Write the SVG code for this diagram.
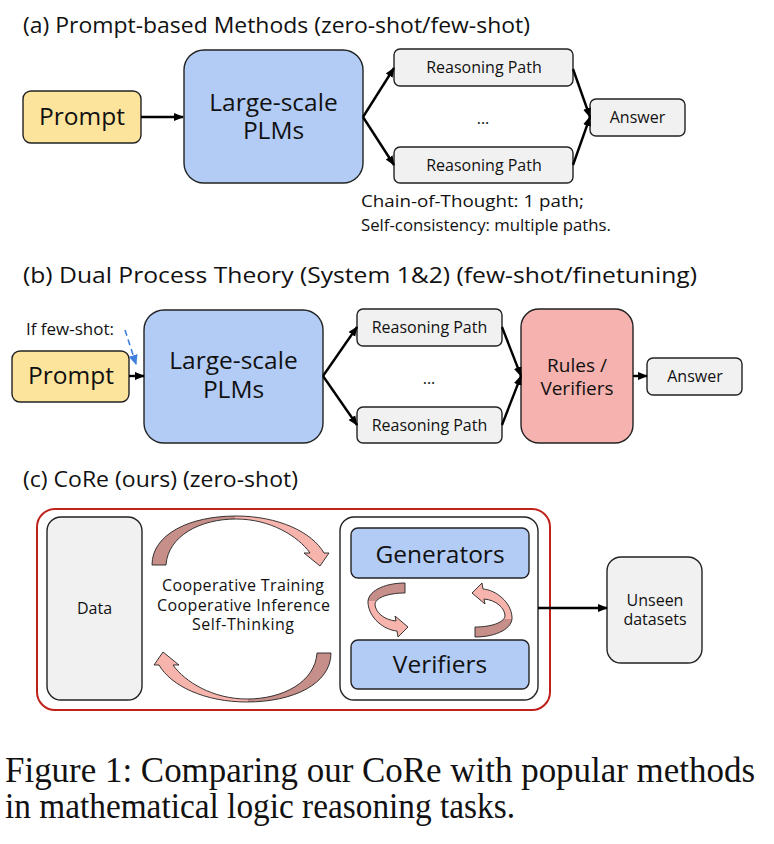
<svg xmlns="http://www.w3.org/2000/svg" width="774" height="844" viewBox="0 0 774 844">
  <style>
    text { font-family: "Open Sans", "Noto Sans", "DejaVu Sans", sans-serif; fill: #111; }
    .title { font-size: 22px; }
    .big { font-size: 24.5px; text-anchor: middle; }
    .mid { font-size: 19px; text-anchor: middle; }
    .small { font-size: 16px; text-anchor: middle; }
    .note { font-size: 16.5px; }
    .caption { font-family: "Liberation Serif", "Times New Roman", serif; font-size: 35px; }
    .box { stroke: #222; stroke-width: 1.4; }
    .prompt { fill: #FCE49C; }
    .plm { fill: #B3CCF6; }
    .grey { fill: #F1F1F1; }
    .rules { fill: #F5B2AE; }
    .conn { stroke: #000; stroke-width: 2.4; fill: none; }
  </style>
  <defs>
    <marker id="head" markerUnits="userSpaceOnUse" markerWidth="10" markerHeight="10" refX="9" refY="5" orient="auto">
      <path d="M0,1 L10,5 L0,9 Z" fill="#000"/>
    </marker>
    <marker id="blueHead" markerUnits="userSpaceOnUse" markerWidth="10" markerHeight="10" refX="9" refY="5" orient="auto">
      <path d="M0,0.5 L10,5 L0,9.5 Z" fill="#3F7FE0"/>
    </marker>
    <linearGradient id="bigShade" gradientUnits="userSpaceOnUse" x1="152" y1="0" x2="329" y2="0">
      <stop offset="0" stop-color="#C68F89"/>
      <stop offset="0.47" stop-color="#C68F89"/>
      <stop offset="0.47" stop-color="#F6B4AD"/>
      <stop offset="1" stop-color="#F6B4AD"/>
    </linearGradient>
    <linearGradient id="loopShade" gradientUnits="userSpaceOnUse" x1="0" y1="583" x2="0" y2="637">
      <stop offset="0" stop-color="#C68F89"/>
      <stop offset="0.34" stop-color="#C68F89"/>
      <stop offset="0.34" stop-color="#F6B4AD"/>
      <stop offset="1" stop-color="#F6B4AD"/>
    </linearGradient>
    <!-- curved ribbon arrow over the top of the cycle -->
    <path id="arcArrow" d="M152,565 C152,534 190,516 236,516 C278,516 312,532 324,553 L329,553 L320,566 L304,553 L310,553 C298,536 270,519 236,519 C200,519 168,536 166,565 Z" fill="url(#bigShade)" stroke="#222" stroke-width="0.9"/>
    <!-- small twisted loop arrow -->
    <path id="loopArrow" d="M405,583 C383,583 367,592 368,603 C369,618 384,630 397,631 L398,637 L408,627 L395,616 L396,621 C384,620 375,612 375,604 C376,597 390,593 405,593 Z" fill="url(#loopShade)" stroke="#222" stroke-width="0.9"/>
  </defs>

  <!-- ===== (a) Prompt-based Methods ===== -->
  <text class="title" x="23" y="33" textLength="507" lengthAdjust="spacingAndGlyphs">(a) Prompt-based Methods (zero-shot/few-shot)</text>

  <g id="a-prompt">
    <rect class="box prompt" x="23" y="91" width="118" height="52" rx="8"/>
    <text class="big" x="82" y="125">Prompt</text>
  </g>
  <g id="a-plm">
    <rect class="box plm" x="184" y="50" width="179" height="133" rx="20"/>
    <text class="big" x="273.5" y="111">Large-scale</text>
    <text class="big" x="273.5" y="139">PLMs</text>
  </g>
  <g id="a-path1">
    <rect class="box grey" x="394" y="49" width="179" height="37" rx="6"/>
    <text class="small" x="484" y="73">Reasoning Path</text>
  </g>
  <text class="small" x="483" y="124">...</text>
  <g id="a-path2">
    <rect class="box grey" x="394" y="147" width="179" height="36" rx="6"/>
    <text class="small" x="484" y="171">Reasoning Path</text>
  </g>
  <g id="a-answer">
    <rect class="box grey" x="590" y="99" width="95" height="37" rx="6"/>
    <text class="small" x="637.5" y="123">Answer</text>
  </g>
  <text class="note" x="361" y="207" textLength="223" lengthAdjust="spacingAndGlyphs">Chain-of-Thought: 1 path;</text>
  <text class="note" x="361" y="231" textLength="250" lengthAdjust="spacingAndGlyphs">Self-consistency: multiple paths.</text>

  <g id="a-connectors">
    <line class="conn" x1="141" y1="117" x2="183" y2="117" marker-end="url(#head)"/>
    <line class="conn" x1="363" y1="117" x2="394" y2="68" marker-end="url(#head)"/>
    <line class="conn" x1="363" y1="117" x2="394" y2="165" marker-end="url(#head)"/>
    <line class="conn" x1="573" y1="69" x2="590" y2="117" marker-end="url(#head)"/>
    <line class="conn" x1="573" y1="165" x2="590" y2="117" marker-end="url(#head)"/>
  </g>

  <!-- ===== (b) Dual Process Theory ===== -->
  <text class="title" x="23" y="283" textLength="674" lengthAdjust="spacingAndGlyphs">(b) Dual Process Theory (System 1&amp;2) (few-shot/finetuning)</text>
  <text class="note" x="26" y="335" textLength="88" lengthAdjust="spacingAndGlyphs">If few-shot:</text>

  <g id="b-prompt">
    <rect class="box prompt" x="12" y="351" width="117" height="51" rx="8"/>
    <text class="big" x="71" y="384">Prompt</text>
  </g>
  <g id="b-plm">
    <rect class="box plm" x="144" y="310" width="179" height="133" rx="20"/>
    <text class="big" x="233.5" y="369">Large-scale</text>
    <text class="big" x="233.5" y="398">PLMs</text>
  </g>
  <g id="b-path1">
    <rect class="box grey" x="357" y="309" width="145" height="37" rx="6"/>
    <text class="small" x="429.5" y="333">Reasoning Path</text>
  </g>
  <text class="small" x="429" y="384">...</text>
  <g id="b-path2">
    <rect class="box grey" x="357" y="407" width="145" height="36" rx="6"/>
    <text class="small" x="429.5" y="431">Reasoning Path</text>
  </g>
  <g id="b-rules">
    <rect class="box rules" x="521" y="309" width="112" height="134" rx="18"/>
    <text class="mid" x="577" y="372">Rules /</text>
    <text class="mid" x="577" y="395">Verifiers</text>
  </g>
  <g id="b-answer">
    <rect class="box grey" x="647" y="358" width="95" height="37" rx="6"/>
    <text class="small" x="695" y="382">Answer</text>
  </g>

  <g id="b-connectors">
    <line x1="125" y1="330" x2="136" y2="364" stroke="#3F7FE0" stroke-width="1.6" stroke-dasharray="6,4" marker-end="url(#blueHead)"/>
    <line class="conn" x1="129" y1="376" x2="144" y2="376" marker-end="url(#head)"/>
    <line class="conn" x1="323" y1="376" x2="357" y2="327" marker-end="url(#head)"/>
    <line class="conn" x1="323" y1="376" x2="357" y2="425" marker-end="url(#head)"/>
    <line class="conn" x1="502" y1="327" x2="521" y2="376" marker-end="url(#head)"/>
    <line class="conn" x1="502" y1="425" x2="521" y2="376" marker-end="url(#head)"/>
    <line class="conn" x1="633" y1="376" x2="647" y2="376" marker-end="url(#head)"/>
  </g>

  <!-- ===== (c) CoRe ===== -->
  <text class="title" x="23" y="487" textLength="275" lengthAdjust="spacingAndGlyphs">(c) CoRe (ours) (zero-shot)</text>

  <g id="c-frame">
    <rect x="37" y="509" width="513" height="201" rx="18" fill="#fff" stroke="#C0211B" stroke-width="2"/>
  </g>
  <g id="c-data">
    <rect class="box grey" x="47" y="517" width="95" height="183" rx="14"/>
    <text class="small" x="94.5" y="614">Data</text>
  </g>
  <g id="c-cycle">
    <use href="#arcArrow"/>
    <use href="#arcArrow" transform="rotate(180 241.5 609)"/>
    <text class="small" x="243" y="591" textLength="162">Cooperative Training</text>
    <text class="small" x="243.5" y="611" textLength="173">Cooperative Inference</text>
    <text class="small" x="243" y="630" textLength="102">Self-Thinking</text>
  </g>
  <g id="c-models">
    <rect class="box" x="340" y="517" width="198" height="183" rx="14" fill="#fff"/>
    <g id="c-generators">
      <rect class="box plm" x="351" y="528" width="178" height="50" rx="7"/>
      <text class="big" x="440" y="563">Generators</text>
    </g>
    <use href="#loopArrow"/>
    <use href="#loopArrow" transform="rotate(180 440 610)"/>
    <g id="c-verifiers">
      <rect class="box plm" x="351" y="640" width="178" height="49" rx="7"/>
      <text class="big" x="440" y="673">Verifiers</text>
    </g>
  </g>
  <g id="c-unseen">
    <rect class="box grey" x="607" y="557" width="95" height="106" rx="14"/>
    <text class="small" x="655" y="606">Unseen</text>
    <text class="small" x="655" y="625">datasets</text>
  </g>
  <g id="c-connectors">
    <line class="conn" x1="538" y1="608" x2="607" y2="608" marker-end="url(#head)"/>
  </g>

  <!-- caption -->
  <text class="caption" x="5" y="782" textLength="750" lengthAdjust="spacingAndGlyphs">Figure 1: Comparing our CoRe with popular methods</text>
  <text class="caption" x="5" y="818" textLength="510" lengthAdjust="spacingAndGlyphs">in mathematical logic reasoning tasks.</text>
</svg>
